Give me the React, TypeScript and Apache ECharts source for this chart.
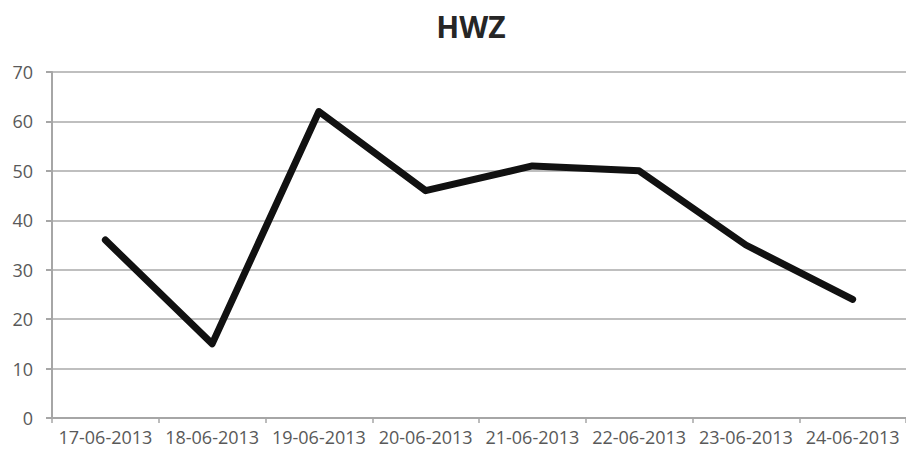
import React, { useEffect, useRef } from "react";
import * as echarts from "echarts";

const categories = ["17-06-2013", "18-06-2013", "19-06-2013", "20-06-2013", "21-06-2013", "22-06-2013", "23-06-2013", "24-06-2013"];
const values = [36, 15, 62, 46, 51, 50, 35, 24];
const titleText = "HWZ";

export default function App() {
  const ref = useRef<HTMLDivElement>(null);
  useEffect(() => {
    if (!ref.current) return;
    const chart = echarts.init(ref.current, undefined, { renderer: "svg" });
    chart.setOption({
      animation: false,
      backgroundColor: "#ffffff",
      title: {
        text: titleText,
        left: 466,
        textAlign: "center",
        top: 6,
        textStyle: { fontFamily: "Open Sans", fontWeight: "bold", fontSize: 30, color: "#262626" },
      },
      grid: { left: 52, right: -3, top: 72, bottom: 42, containLabel: false },
      xAxis: {
        type: "category",
        data: categories,
        boundaryGap: true,
        axisLine: { show: true, lineStyle: { color: "#a6a6a6", width: 2 } },
        axisTick: { show: true, length: 5, alignWithLabel: false, lineStyle: { color: "#a6a6a6", width: 1.5 } },
        axisLabel: { interval: 0, margin: 10, fontFamily: "Open Sans", fontSize: 18, color: "#595959" },
        splitLine: { show: false },
      },
      yAxis: {
        type: "value",
        min: 0,
        max: 70,
        interval: 10,
        axisLine: { show: true, lineStyle: { color: "#a6a6a6", width: 2 } },
        axisTick: { show: true, length: 6, lineStyle: { color: "#a6a6a6", width: 2 } },
        axisLabel: { margin: 19, fontFamily: "Open Sans", fontSize: 18, color: "#595959" },
        splitLine: { show: true, lineStyle: { color: "#bfbfbf", width: 2 } },
      },
      series: [
        {
          type: "line",
          data: values,
          symbol: "none",
          lineStyle: { color: "#111111", width: 7, cap: "round", join: "round" },
        },
      ],
    });
    return () => chart.dispose();
  }, []);
  return <div ref={ref} style={{ width: 906, height: 460, position: "absolute", left: 0, top: 0 }} />;
}
